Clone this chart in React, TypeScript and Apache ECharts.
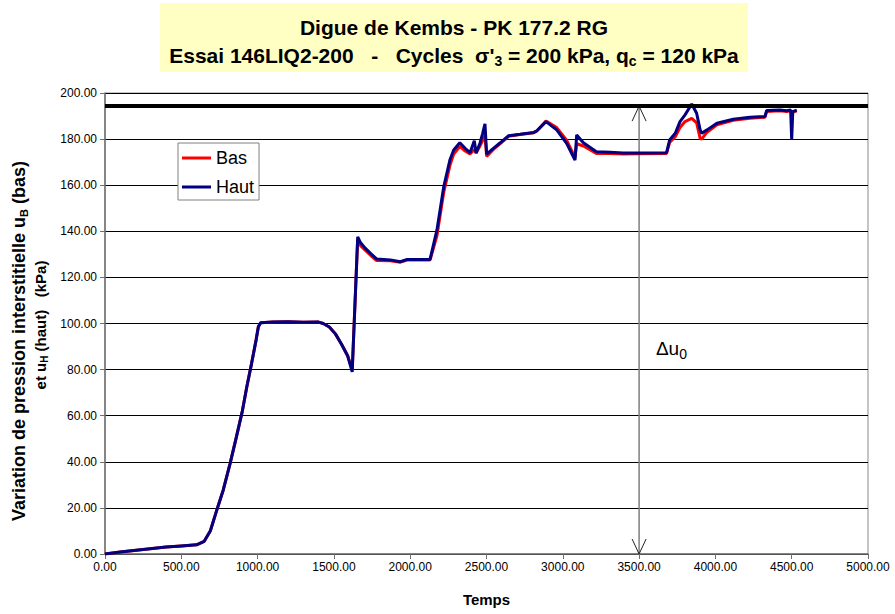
import React, { useEffect, useRef } from "react";
import * as echarts from "echarts";

const times = [0, 100, 250, 400, 500, 600, 650, 690, 730, 775, 820, 860, 900, 930, 960, 990, 1005, 1020, 1100, 1200, 1300, 1400, 1430, 1470, 1510, 1550, 1590, 1620, 1656, 1675, 1705, 1740, 1780, 1870, 1935, 1980, 2050, 2130, 2175, 2220, 2260, 2285, 2325, 2360, 2392, 2420, 2432, 2457, 2475, 2490, 2501, 2545, 2590, 2645, 2720, 2810, 2830, 2890, 2960, 3025, 3080, 3091, 3135, 3220, 3310, 3395, 3500, 3680, 3700, 3737, 3768, 3801, 3845, 3877, 3900, 3910, 3945, 4010, 4117, 4227, 4325, 4336, 4423, 4467, 4493, 4500, 4507, 4533];

const haut = [0, 0.9, 2, 3, 3.5, 4, 5.5, 10, 18.5, 27.8, 39.3, 50.5, 62, 72.8, 82.5, 92.8, 98.6, 100.3, 100.6, 100.8, 100.5, 100.6, 100, 98.5, 95.5, 91, 86, 79, 137.6, 135, 132.7, 130.4, 128, 127.6, 126.8, 127.8, 127.8, 127.8, 140.5, 159.4, 170.9, 175.3, 178.4, 176, 174.1, 179.3, 174, 178.2, 182.5, 186.6, 173.5, 176, 178.4, 181.5, 182.1, 182.9, 183.6, 187.6, 184, 178.2, 170.9, 181.8, 178.4, 174.5, 174.3, 174, 174, 174.1, 179.6, 182.5, 187.6, 190.5, 195.2, 191.2, 184, 182.5, 184, 186.9, 188.6, 189.5, 189.8, 192.4, 192.6, 192.3, 192.6, 179.6, 191.9, 192.6];

const bas = [0, 0.9, 2, 3, 3.5, 4, 5.5, 10, 18.5, 27.8, 39.3, 50.5, 62, 72.8, 82.5, 92.8, 98.6, 100.3, 100.6, 100.8, 100.5, 100.6, 100, 98.5, 95.5, 91, 86, 80, 136.5, 133.8, 131.8, 129.6, 127.3, 127.2, 126.6, 127.5, 127.5, 127.5, 138, 157, 168.5, 173.5, 176.8, 174.8, 173.5, 175.5, 174, 177, 179.5, 181.5, 172.5, 175.5, 178, 181.2, 182, 182.8, 183.5, 187.8, 185, 179.5, 172, 178, 177, 173.8, 173.8, 173.5, 173.6, 173.8, 178.5, 181, 185, 187.6, 189, 187, 180.3, 180, 183, 186.2, 188.2, 189, 189.5, 192, 192.3, 192, 192.3, 191, 191.7, 192.3];

const xTicks = [0, 500, 1000, 1500, 2000, 2500, 3000, 3500, 4000, 4500, 5000];
const yTicks = [0, 20, 40, 60, 80, 100, 120, 140, 160, 180, 200];
const referenceLevel = 194.3;
const arrowAt = [3500, 0, 194.3];
const deltaLabelAt = [3610, 89];

const FONT = "'Liberation Sans', Arial, sans-serif";

export default function App() {
  const ref = useRef<HTMLDivElement>(null);
  useEffect(() => {
    if (!ref.current) return;
    const chart = echarts.init(ref.current, null, { renderer: "svg" });
    const basData = times.map((t, i) => [t, bas[i]]);
    const hautData = times.map((t, i) => [t, haut[i]]);
    const option: any = {
      animation: false,
      backgroundColor: "#ffffff",
      textStyle: { fontFamily: FONT },
      grid: {
        left: 105,
        right: 27,
        top: 93,
        bottom: 60,
        show: true,
        borderColor: "#8a8a8a",
        borderWidth: 1,
        backgroundColor: "transparent",
      },
      graphic: [
        {
          type: "rect",
          shape: { x: 160, y: 3, width: 588, height: 69 },
          style: { fill: "#FFFFC4" },
          z: 0,
        },
        {
          type: "text",
          x: 454,
          y: 27,
          style: {
            text: "Digue de Kembs - PK 177.2 RG",
            fontFamily: FONT,
            fontSize: 21,
            fontWeight: "bold",
            fill: "#000",
            textAlign: "center",
            textVerticalAlign: "middle",
          },
        },
        {
          type: "text",
          x: 454,
          y: 55,
          style: {
            text: "{m|Essai 146LIQ2-200   -   Cycles  σ'}{s|3}{m| = 200 kPa, q}{s|c}{m| = 120 kPa}",
            fontFamily: FONT,
            fill: "#000",
            textAlign: "center",
            textVerticalAlign: "middle",
            rich: {
              m: { fontFamily: FONT, fontSize: 21, fontWeight: "bold", lineHeight: 26, verticalAlign: "middle" },
              s: { fontFamily: FONT, fontSize: 14, fontWeight: "bold", lineHeight: 13, verticalAlign: "bottom" },
            },
          },
        },
        {
          type: "text",
          x: 19,
          y: 341,
          rotation: Math.PI / 2,
          style: {
            text: "{m|Variation de pression interstitielle u}{s|B}{m| (bas)}",
            fontFamily: FONT,
            fill: "#000",
            textAlign: "center",
            textVerticalAlign: "middle",
            rich: {
              m: { fontFamily: FONT, fontSize: 18, fontWeight: "bold", lineHeight: 20, verticalAlign: "middle" },
              s: { fontFamily: FONT, fontSize: 11, fontWeight: "bold", lineHeight: 11, verticalAlign: "bottom" },
            },
          },
        },
        {
          type: "text",
          x: 40,
          y: 325,
          rotation: Math.PI / 2,
          style: {
            text: "{m|et u}{s|H}{m| (haut)   (kPa)}",
            fontFamily: FONT,
            fill: "#000",
            textAlign: "center",
            textVerticalAlign: "middle",
            rich: {
              m: { fontFamily: FONT, fontSize: 15, fontWeight: "bold", lineHeight: 18, verticalAlign: "middle" },
              s: { fontFamily: FONT, fontSize: 10, fontWeight: "bold", lineHeight: 10, verticalAlign: "bottom" },
            },
          },
        },
      ],
      legend: {
        orient: "vertical",
        left: 178,
        top: 143,
        padding: [6, 5, 4, 4],
        itemGap: 11,
        itemWidth: 29,
        itemHeight: 3,
        backgroundColor: "#ffffff",
        borderColor: "#808080",
        borderWidth: 1,
        borderRadius: 0,
        textStyle: { fontFamily: FONT, fontSize: 18, color: "#000" },
        data: [
          { name: "Bas", icon: "rect" },
          { name: "Haut", icon: "rect" },
        ],
        z: 10,
      },
      xAxis: {
        type: "value",
        min: xTicks[0],
        max: xTicks[xTicks.length - 1],
        interval: xTicks[1] - xTicks[0],
        name: "Temps",
        nameLocation: "middle",
        nameGap: 38,
        nameTextStyle: { fontFamily: FONT, fontSize: 15, fontWeight: "bold", color: "#000" },
        axisLine: { show: true, lineStyle: { color: "#707070", width: 1.5 } },
        axisTick: { show: true, inside: false, length: 5, lineStyle: { color: "#707070" } },
        axisLabel: {
          fontFamily: FONT,
          fontSize: 12,
          color: "#000",
          margin: 7,
          formatter: (v: number) => v.toFixed(2),
        },
        splitLine: { show: false },
      },
      yAxis: {
        type: "value",
        min: yTicks[0],
        max: yTicks[yTicks.length - 1],
        interval: yTicks[1] - yTicks[0],
        axisLine: { show: true, lineStyle: { color: "#707070", width: 1.5 } },
        axisTick: { show: true, inside: false, length: 5, lineStyle: { color: "#707070" } },
        axisLabel: {
          fontFamily: FONT,
          fontSize: 12,
          color: "#000",
          margin: 8,
          formatter: (v: number) => v.toFixed(2),
        },
        splitLine: { show: true, lineStyle: { color: "#000", width: 1 } },
      },
      series: [
        {
          name: "Bas",
          type: "line",
          data: basData,
          showSymbol: false,
          symbol: "none",
          lineStyle: { color: "#ff0000", width: 3 },
          itemStyle: { color: "#ff0000" },
          z: 3,
        },
        {
          name: "Haut",
          type: "line",
          data: hautData,
          showSymbol: false,
          symbol: "none",
          lineStyle: { color: "#000080", width: 3 },
          itemStyle: { color: "#000080" },
          z: 4,
          markLine: {
            silent: true,
            symbol: "none",
            label: { show: false },
            lineStyle: { color: "#000", width: 4, type: "solid" },
            data: [{ yAxis: referenceLevel }],
          },
        },
        {
          name: "arrow",
          type: "custom",
          silent: true,
          z: 2,
          data: [arrowAt],
          renderItem: (params: any, api: any) => {
            const top = api.coord([api.value(0), api.value(2)]);
            const bottom = api.coord([api.value(0), api.value(1)]);
            const lbl = api.coord(deltaLabelAt);
            const h = 15;
            const w = 7;
            return {
              type: "group",
              children: [
                {
                  type: "line",
                  shape: { x1: top[0], y1: top[1], x2: bottom[0], y2: bottom[1] },
                  style: { stroke: "#7f7f7f", lineWidth: 1.5 },
                },
                {
                  type: "polyline",
                  shape: { points: [[top[0] - w, top[1] + h], [top[0], top[1]], [top[0] + w, top[1] + h]] },
                  style: { stroke: "#222", lineWidth: 1, fill: null },
                },
                {
                  type: "polyline",
                  shape: { points: [[bottom[0] - w, bottom[1] - h], [bottom[0], bottom[1]], [bottom[0] + w, bottom[1] - h]] },
                  style: { stroke: "#222", lineWidth: 1, fill: null },
                },
                {
                  type: "text",
                  x: lbl[0],
                  y: lbl[1],
                  style: {
                    text: "{m|Δu}{s|0}",
                    fill: "#000",
                    textAlign: "left",
                    textVerticalAlign: "middle",
                    rich: {
                      m: { fontFamily: FONT, fontSize: 19, lineHeight: 24, verticalAlign: "middle" },
                      s: { fontFamily: FONT, fontSize: 14, lineHeight: 14, verticalAlign: "bottom" },
                    },
                  },
                },
              ],
            };
          },
        },
      ],
    };
    chart.setOption(option);
    return () => chart.dispose();
  }, []);
  return (
    <div
      ref={ref}
      style={{ position: "fixed", left: 0, top: 0, width: 895, height: 614, background: "#fff" }}
    />
  );
}
